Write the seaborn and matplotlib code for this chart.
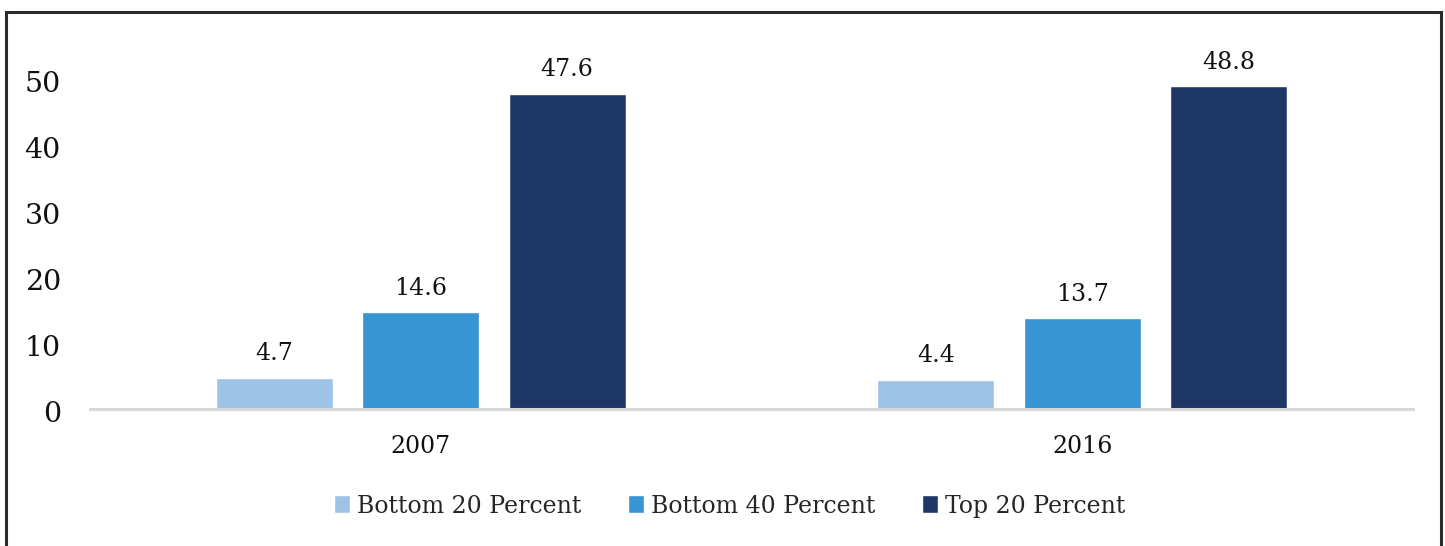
import matplotlib
matplotlib.use("Agg")
import matplotlib.pyplot as plt
import matplotlib.transforms as mtransforms
from matplotlib.patches import Rectangle
import pandas as pd
import seaborn as sns

# Share of income by quintile group
years = ["2007", "2016"]
groups = ["Bottom 20 Percent", "Bottom 40 Percent", "Top 20 Percent"]
bottom20 = [4.7, 4.4]
bottom40 = [14.6, 13.7]
top20 = [47.6, 48.8]
y_ticks = [0, 10, 20, 30, 40, 50]

palette = ["#9DC3E6", "#3895D3", "#1F3767"]

df = pd.DataFrame({
    "year": years * 3,
    "group": [g for g in groups for _ in years],
    "value": bottom20 + bottom40 + top20,
})

sns.set_theme(style="white")
plt.rcParams["font.family"] = ["DejaVu Serif"]

fig = plt.figure(figsize=(14.45, 5.46), dpi=100)
ax = fig.add_axes([90 / 1445, 137 / 546, 1323 / 1445, 362 / 546])

sns.barplot(data=df, x="year", y="value", hue="group", order=years,
            hue_order=groups, palette=palette, width=0.664, gap=0.2,
            saturation=1, errorbar=None, ax=ax, legend=True)

ax.set_xlim(-0.5, 1.5)
ax.set_ylim(0, 54.7)
ax.set_yticks(y_ticks)
ax.set_yticklabels([str(t) for t in y_ticks], fontsize=20.5, color="#111111")
ax.tick_params(axis="y", length=0, pad=21)
ax.tick_params(axis="x", length=0, pad=19, labelsize=17, labelcolor="#111111")
for lab in ax.get_yticklabels():
    lab.set_transform(lab.get_transform() +
                      mtransforms.ScaledTranslation(0, -3 / 100, fig.dpi_scale_trans))
ax.set_xlabel("")
ax.set_ylabel("")
for side in ["left", "right", "top"]:
    ax.spines[side].set_visible(False)
ax.spines["bottom"].set_color("#D9D9D9")
ax.spines["bottom"].set_linewidth(2.2)

for container in ax.containers:
    ax.bar_label(container, labels=[f"{v:.1f}" for v in container.datavalues],
                 padding=9, fontsize=17, color="#111111")

handles, labels = ax.get_legend_handles_labels()
ax.get_legend().remove()
fig.legend(handles, labels, loc="center", bbox_to_anchor=(0.505, 0.073),
           ncol=3, frameon=False, fontsize=17, handlelength=0.65,
           handleheight=0.8, handletextpad=0.3, columnspacing=2.0)

# Outer frame around the figure
fig.patches.append(Rectangle((6 / 1445, -0.05), 1435 / 1445, 1.05 - 12 / 546,
                             transform=fig.transFigure, fill=False,
                             edgecolor="#2B2B2B", linewidth=2.2, zorder=10))

fig.savefig("out.png", dpi=100)
